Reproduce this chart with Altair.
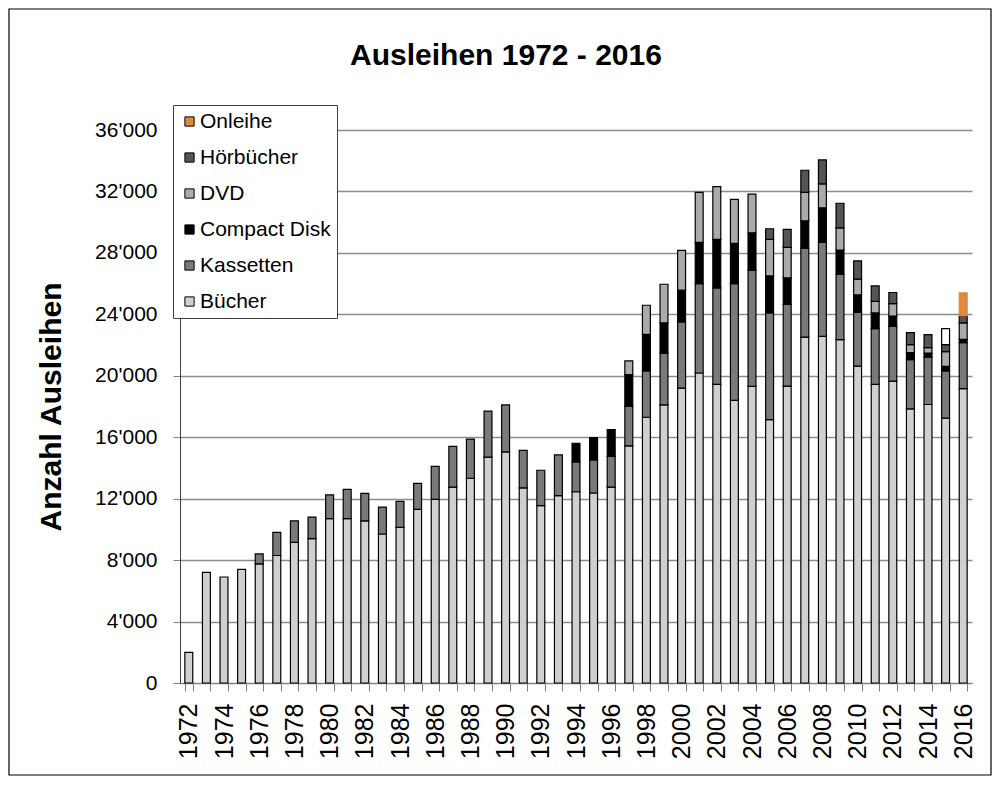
import altair as alt
import pandas as pd

years = list(range(1972, 2017))

buecher = [2000, 7200, 6900, 7400, 7750, 8300, 9150, 9400, 10700, 10700,
           10550, 9700, 10130, 11300, 11950, 12750, 13330, 14700, 15050, 12700,
           11550, 12200, 12450, 12370, 12750, 15440, 17300, 18100, 19200, 20180,
           19440, 18400, 19310, 17140, 19330, 22520, 22570, 22360, 20630, 19440,
           19650, 17850, 18130, 17240, 19160]
kassetten = [0, 0, 0, 0, 650, 1500, 1400, 1400, 1550, 1900,
             1800, 1750, 1700, 1700, 2150, 2650, 2550, 3000, 3050, 2450,
             2300, 2650, 1950, 2150, 2000, 2580, 3010, 3380, 4300, 5820,
             6280, 7600, 7570, 6950, 5310, 5790, 6110, 4240, 3510, 3630,
             3570, 3200, 3090, 3070, 3000]
compact_disk = [0] * 22 + [1200, 1450, 1750, 2050, 2390, 1960, 2070, 2680,
                           3160, 2620, 2430, 2410, 1730, 1780, 2260, 1580, 1130, 1020,
                           670, 460, 260, 300, 210]
dvd = [0] * 25 + [900, 1890, 2520, 2590, 3260, 3430, 2870, 2520, 2380, 1990,
                  1850, 1550, 1450, 1020, 760, 810, 520, 350, 960, 1070]
hoerbuecher = [0] * 33 + [690, 1170, 1440, 1560, 1600, 1190, 1000, 720, 780, 850, 460, 480]
onleihe = [0] * 43 + [1040, 1480]

series_names = ["Bücher", "Kassetten", "Compact Disk", "DVD", "Hörbücher", "Onleihe"]
series_values = [buecher, kassetten, compact_disk, dvd, hoerbuecher, onleihe]
legend_order = ["Onleihe", "Hörbücher", "DVD", "Compact Disk", "Kassetten", "Bücher"]
legend_colors = ["#e0883c", "#555555", "#ababab", "#000000", "#7a7a7a", "#d0d0d0"]
chart_title = "Ausleihen 1972 - 2016"

rows = []
for idx, (name, vals) in enumerate(zip(series_names, series_values)):
    for y, v in zip(years, vals):
        if v > 0:
            rows.append({"Jahr": y, "Serie": name, "Wert": v, "idx": idx})
df = pd.DataFrame(rows)

FONT = "Liberation Sans"

bars = alt.Chart(df).mark_bar(strokeWidth=1.2).encode(
    x=alt.X("Jahr:O",
            scale=alt.Scale(paddingInner=0.55, paddingOuter=0.275),
            axis=alt.Axis(title=None, labelAngle=-90, labelFontSize=25,
                          labelFont=FONT, labelColor="#000000",
                          labelExpr="datum.value % 2 == 0 ? datum.label : ''",
                          tickBand="extent", tickSize=8, tickColor="#808080",
                          domainColor="#808080", labelPadding=12,
                          grid=False, labelOverlap=False)),
    y=alt.Y("Wert:Q", stack="zero",
            scale=alt.Scale(domain=[0, 36000], nice=False),
            axis=alt.Axis(title="Anzahl Ausleihen", values=list(range(0, 36001, 4000)),
                          labelExpr="replace(format(datum.value, ','), ',', \"'\")",
                          labelFontSize=21, labelFont=FONT, labelColor="#000000",
                          titleFontSize=30, titleFont=FONT, titleFontWeight="bold",
                          titleColor="#000000", titlePadding=28,
                          tickSize=7, tickColor="#808080", domainColor="#404040",
                          gridColor="#8c8c8c", gridWidth=1.3, labelPadding=16)),
    color=alt.condition(
        "datum.Jahr == 2015 && datum.Serie == 'Onleihe'",
        alt.value("#ffffff"),
        alt.Color("Serie:N",
                  scale=alt.Scale(domain=legend_order, range=legend_colors),
                  legend=alt.Legend(title=None, orient="none", legendX=-7, legendY=-25,
                                    labelFontSize=21, labelFont=FONT, labelColor="#000000",
                                    symbolType="square", symbolSize=85,
                                    symbolStrokeColor="#000000", symbolStrokeWidth=1,
                                    rowPadding=14, padding=6, labelLimit=400,
                                    fillColor="#ffffff", strokeColor="#404040",
                                    labelOffset=0))),
    stroke=alt.condition("datum.Serie == 'Onleihe' && datum.Jahr == 2016",
                         alt.value("#e0883c"), alt.value("#000000")),
    order=alt.Order("idx:Q", sort="ascending"),
    tooltip=["Jahr:O", "Serie:N", "Wert:Q"],
)

frame = alt.Chart(pd.DataFrame({"a": [0]})).mark_rect(
    fill="transparent", stroke="#000000", strokeWidth=1.2
).encode(
    x=alt.value(-171), x2=alt.value(811),
    y=alt.value(-121), y2=alt.value(645),
)

title = alt.Chart(pd.DataFrame({"t": [chart_title]})).mark_text(
    font=FONT, fontSize=30, fontWeight="bold", color="#000000",
    align="center", baseline="alphabetic"
).encode(
    text="t:N", x=alt.value(326), y=alt.value(-65),
)

chart = alt.layer(frame, bars, title).properties(
    width=792, height=553,
    autosize=alt.AutoSizeParams(type="none"),
    padding={"left": 172, "top": 122, "right": 21, "bottom": 94},
).configure_view(stroke=None)

chart.save("out.html", embed_options={"renderer": "svg", "actions": False})
